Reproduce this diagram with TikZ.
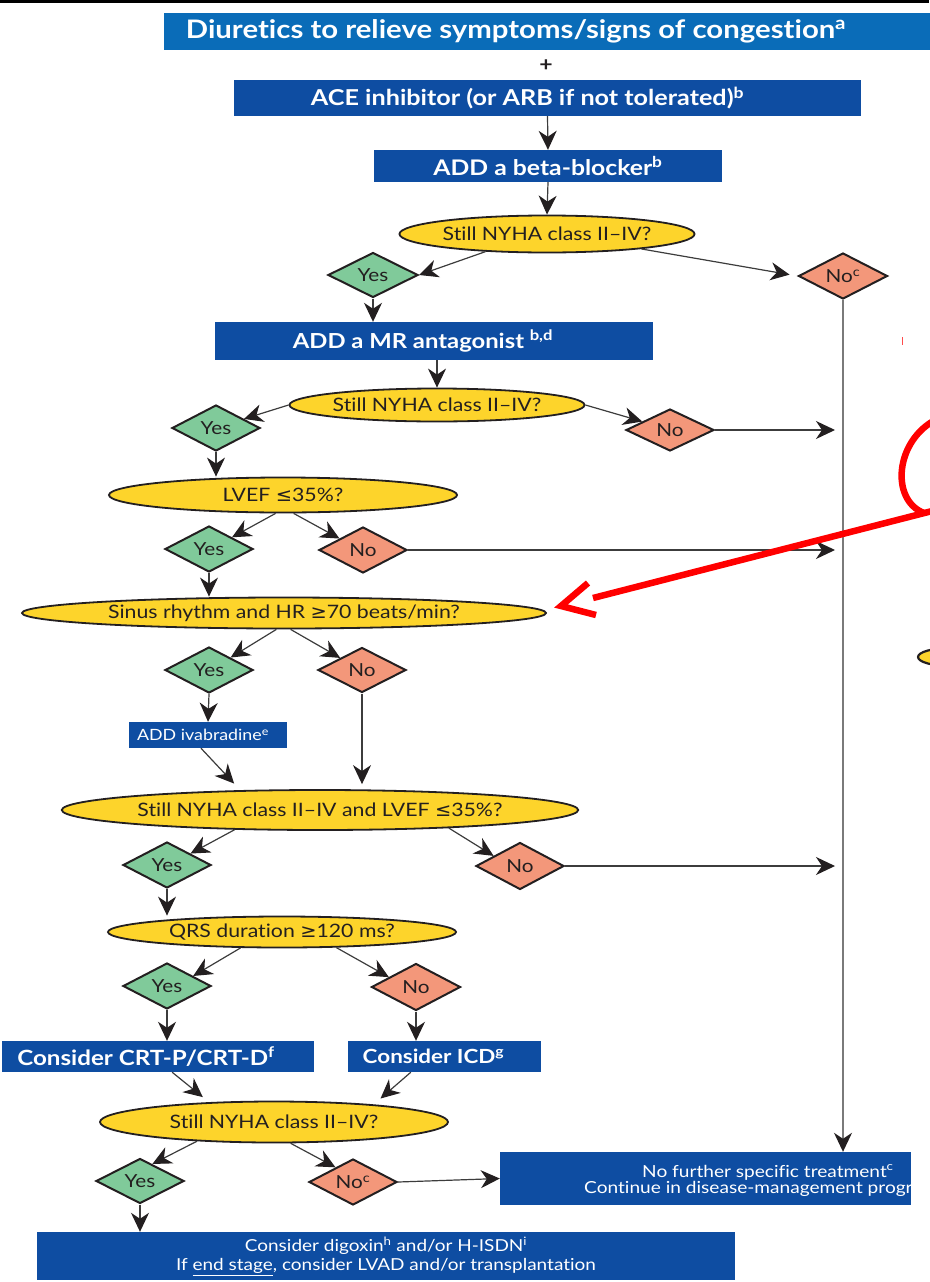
\documentclass[tikz,border=0pt]{standalone}
\usepackage{fontspec}
\setmainfont{Lato}[FakeStretch=1.15, Ligatures=CommonOff]
\newfontfamily\symf{DejaVu Sans}[FakeStretch=1.05]
\usetikzlibrary{shapes.geometric,arrows.meta,calc}
\definecolor{titleblue}{HTML}{0A6CB8}
\definecolor{boxblue}{HTML}{0E4DA2}
\definecolor{ellyellow}{HTML}{FDD42B}
\definecolor{yesgreen}{HTML}{80CA9A}
\definecolor{nosalmon}{HTML}{F3977A}
\definecolor{linegray}{HTML}{3C3C3C}
\definecolor{vgray}{HTML}{7A7A7A}
\definecolor{inkdark}{HTML}{231F20}
\newcommand{\mygeq}{{\symf\char"2265}}
\newcommand{\myleq}{{\symf\char"2264}}
\tikzset{
  bluebox/.style={rectangle, fill=boxblue, text=white, inner sep=0pt, font=\bfseries\fontsize{21}{23}\selectfont},
  ell/.style={ellipse, draw=inkdark, line width=1.8pt, fill=ellyellow, inner sep=0pt, text=inkdark, font=\fontsize{18.5}{20}\selectfont},
  yesd/.style={diamond, aspect=2, draw=inkdark, line width=2pt, fill=yesgreen, inner sep=0pt, minimum width=88, minimum height=46, text=inkdark, font=\fontsize{18}{20}\selectfont},
  nod/.style={diamond, aspect=2, draw=inkdark, line width=2pt, fill=nosalmon, inner sep=0pt, minimum width=88, minimum height=46, text=inkdark, font=\fontsize{18}{20}\selectfont},
  conn/.style={draw=linegray, line width=1.2pt, -{Stealth[length=19pt,width=18pt,inset=6pt,color=inkdark]}},
  vconn/.style={draw=vgray, line width=1.4pt, -{Stealth[length=19pt,width=18pt,inset=6pt,color=inkdark]}},
  redmark/.style={draw=red, line width=6.5pt},
  plain/.style={inner sep=0pt, text=white, font=\fontsize{16.6}{19}\selectfont}
}
\begin{document}
\begin{tikzpicture}[x=1pt,y=-1pt]
\useasboundingbox (0,0) rectangle (929,1282);
\fill[black] (0,0) rectangle (929,2.5);

% boxes
\node[bluebox, fill=titleblue, minimum width=771, minimum height=37, font=\bfseries\fontsize{25.5}{27}\selectfont] (title) at (549.5,31.5) {\hspace*{-67pt}Diuretics to relieve symptoms/signs of congestion\textsuperscript{a}};
\node[inner sep=0pt, font=\bfseries\fontsize{20}{22}\selectfont, text=inkdark] (plus) at (546,66) {+};
\node[bluebox, minimum width=627, minimum height=36, font=\bfseries\fontsize{21.9}{23}\selectfont] (ace) at (547.5,98) {\hspace*{-40pt}ACE inhibitor (or ARB if not tolerated)\textsuperscript{b}};
\node[bluebox, minimum width=348, minimum height=32, font=\bfseries\fontsize{21.5}{23}\selectfont] (beta) at (548,166) {ADD a beta-blocker\textsuperscript{b}};
\node[ell, minimum width=290, minimum height=37] (ell1) at (547,234) {Still NYHA class II–IV?};
\node[yesd, minimum width=90, minimum height=45] (yes1) at (373,275) {Yes};
\node[nod, minimum width=89] (no1) at (843,276) {No\textsuperscript{c}};
\node[bluebox, minimum width=438, minimum height=38, font=\bfseries\fontsize{20.7}{23}\selectfont] (mr) at (434,341) {\hspace*{-22pt}ADD a MR antagonist \textsuperscript{b,d}};
\node[ell, minimum width=291, minimum height=33] (ell2) at (437,405) {Still NYHA class II–IV?};
\node[yesd] (yes2) at (216,428) {Yes};
\node[nod, minimum height=42] (no2) at (670,430) {No};
\node[ell, minimum width=348, minimum height=35] (ell3) at (283,495) {LVEF \myleq35\%?};
\node[yesd] (yes3) at (209,549) {Yes};
\node[nod] (no3) at (363,550) {No};
\node[ell, minimum width=524, minimum height=31] (ell4) at (284,613) {Sinus rhythm and HR \mygeq70 beats/min?};
\node[yesd] (yes4) at (209,670) {Yes};
\node[nod, minimum height=45] (no4) at (362,670) {No};
\node[bluebox, minimum width=158, minimum height=26, font=\fontsize{15.5}{18}\selectfont] (ivab) at (208,735) {\hspace*{-10pt}ADD ivabradine\textsuperscript{e}};
\node[ell, minimum width=468, minimum height=40] (ell5) at (320,810) {Still NYHA class II–IV and LVEF \myleq35\%?};
\node[yesd] (yes5) at (167,865) {Yes};
\node[nod, minimum height=47] (no5) at (520,866) {No};
\node[ell, minimum width=348, minimum height=31] (ell6) at (282,932) {QRS duration \mygeq120 ms?};
\node[yesd] (yes6) at (167,986) {Yes};
\node[nod, minimum width=89, minimum height=47] (no6) at (416,987) {No};
\node[bluebox, minimum width=312, minimum height=31, font=\bfseries\fontsize{21}{22}\selectfont] (crt) at (158,1056.5) {\hspace*{-24pt}Consider CRT-P/CRT-D\textsuperscript{f}};
\node[bluebox, minimum width=193, minimum height=31, font=\bfseries\fontsize{19.5}{22}\selectfont] (icd) at (444.5,1056.5) {\hspace*{-22pt}Consider ICD\textsuperscript{g}};
\node[ell, minimum width=348, minimum height=41] (ell7) at (274,1122) {Still NYHA class II–IV?};
\node[yesd, minimum height=45] (yes7) at (140,1181) {Yes};
\node[nod] (no7) at (353,1182) {No\textsuperscript{c}};
\node[bluebox, minimum width=411, minimum height=53] (nofurther) at (705.5,1178.5) {};
\node[plain, anchor=base west] (nf1) at (642,1177) {No further specific treatment\textsuperscript{c}};
\node[plain, anchor=base west] (nf2) at (584,1193) {Continue in disease-management progr};
\node[bluebox, minimum width=698, minimum height=48, align=center, font=\fontsize{16.5}{19}\selectfont] (bottom) at (386,1256) {Consider digoxin\textsuperscript{h} and/or H-ISDN\textsuperscript{i}\\If \underline{end stage}, consider LVAD and/or transplantation};

% connectors
\draw[conn] (ace.south) -- (beta.north);
\draw[conn] (beta.south) -- (ell1.north);
\draw[conn] (ell1.196) -- (yes1.east);
\draw[conn, shorten >=8pt] (ell1.351) -- (no1.west);
\draw[conn] (yes1.south) -- (yes1.south |- mr.north);
\draw[vconn] (no1.south) -- (no1.south |- nofurther.north);
\draw[conn] (ell2.north |- mr.south) -- (ell2.north);
\draw[conn] (ell2.west) -- (yes2.18);
\draw[conn] (ell2.east) -- (no2.163);
\draw[conn, shorten >=8pt] (no2.east) -- (no2.east -| no1.south);
\draw[conn] (yes2.south) -- (yes2.south |- ell3.north);
\draw[conn] (ell3.248) -- (yes3.27);
\draw[conn] (ell3.300) -- (no3.154);
\draw[conn, shorten >=8pt] (no3.east) -- (no3.east -| no1.south);
\draw[conn] (yes3.south) -- (yes3.south |- ell4.north);
\draw[conn] (ell4.245) -- (yes4.30);
\draw[conn] (ell4.292) -- (no4.151);
\draw[conn] (yes4.south) -- (ivab.north);
\draw[conn, shorten >=9pt] (ivab.242) -- (ell5.166);
\draw[conn, shorten >=5pt] (no4.south) -- (no4.south |- ell5.north);
\draw[conn] (ell5.193) -- (yes5.26);
\draw[conn] (ell5.352) -- (no5.159);
\draw[conn, shorten >=8pt] (no5.east) -- (no5.east -| no1.south);
\draw[conn] (yes5.south) -- (yes5.south |- ell6.north);
\draw[conn] (ell6.201) -- (yes6.21);
\draw[conn] (ell6.344) -- (no6.160);
\draw[conn] (yes6.south) -- (yes6.south |- crt.north);
\draw[conn] (no6.south) -- (no6.south |- icd.north);
\draw[conn, shorten >=8pt] (crt.312) -- (ell7.163);
\draw[conn, shorten >=9pt] (icd.205) -- (ell7.10);
\draw[conn] (ell7.194) -- (yes7.54);
\draw[conn] (ell7.308) -- (no7.140);
\draw[conn] (no7.east) -- (nofurther.west);
\draw[conn] (yes7.south) -- (yes7.south |- bottom.north);

% red annotation
\draw[redmark] (937,419) .. controls (895,440) and (890,500) .. (924,513);
\draw[redmark] (940,509) -- (593,598);
\draw[redmark, miter limit=10] (588,583) -- (561,606) -- (596,615);
\draw[red!70, line width=1pt] (902,337) -- (902,345);
\draw[inkdark, line width=2.2pt, fill=ellyellow] (950,657) ellipse [x radius=32, y radius=9];
\end{tikzpicture}
\end{document}
